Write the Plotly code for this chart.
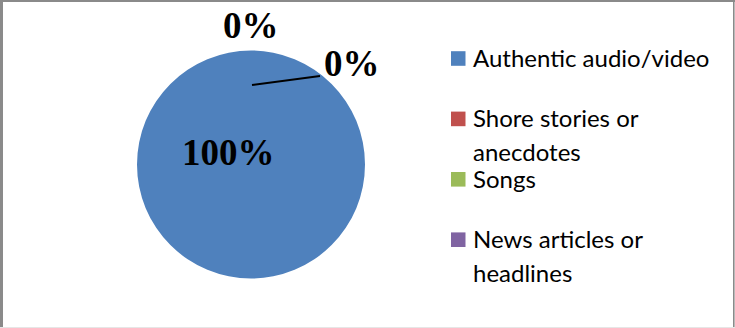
import plotly.graph_objects as go

# Survey categories and their shares
categories = [
    "Authentic audio/video",
    "Shore stories or anecdotes",
    "Songs",
    "News articles or headlines",
]
legend_lines = [
    ["Authentic audio/video"],
    ["Shore stories or", "anecdotes"],
    ["Songs"],
    ["News articles or", "headlines"],
]
values = [100, 0, 0, None]
colors = ["#4F81BD", "#C0504D", "#9BBB59", "#8064A2"]

W, H = 735, 328


def px(x):
    return x / W


def py(y):
    return 1 - y / H


# pie placement in pixels
pie_left, pie_right, pie_top, pie_bottom = 137, 365, 50, 279

fig = go.Figure()
fig.add_trace(
    go.Pie(
        labels=categories,
        values=[v if v is not None else 0 for v in values],
        marker=dict(colors=colors, line=dict(width=0)),
        sort=False,
        direction="clockwise",
        rotation=0,
        textinfo="none",
        hoverinfo="label+percent",
        showlegend=False,
        domain=dict(x=[px(pie_left), px(pie_right)], y=[py(pie_bottom), py(pie_top)]),
    )
)

total = sum(v for v in values if v is not None)

# data-label positions (pixels) for each labelled slice
label_pos = [(228, 152), (251, 26), (352, 64)]
annotations = []
for i, v in enumerate(values):
    if v is None:
        continue
    pct = f"{round(100 * v / total)}%"
    x, y = label_pos[i]
    annotations.append(
        dict(
            x=px(x), y=py(y), xref="paper", yref="paper",
            text=pct, showarrow=False, xanchor="center", yanchor="middle",
            font=dict(family="Liberation Serif", size=37, color="#000000", weight="bold"),
        )
    )

shapes = []
# leader line for the zero slice label on the right
shapes.append(dict(type="line", xref="paper", yref="paper",
                   x0=px(252), y0=py(85), x1=px(320), y1=py(76),
                   line=dict(color="#000000", width=2)))

# legend: colour squares and wrapped category names
legend_y0, legend_step, line_step = 58.5, 60.4, 33.6
for i, lines in enumerate(legend_lines):
    cy = legend_y0 + i * legend_step
    shapes.append(dict(type="rect", xref="paper", yref="paper",
                       x0=px(451), x1=px(465.5), y0=py(cy - 7.3), y1=py(cy + 7.3),
                       fillcolor=colors[i], line=dict(width=0)))
    for j, line in enumerate(lines):
        annotations.append(
            dict(
                x=px(471), y=py(cy + j * line_step - 1), xref="paper", yref="paper",
                text=line, showarrow=False, xanchor="left", yanchor="middle",
                font=dict(family="Lato", size=24, color="#000000"),
            )
        )

# outer frame
frame = "#8a8a8a"
shapes += [
    dict(type="line", xref="paper", yref="paper", x0=0, x1=1, y0=py(1), y1=py(1),
         line=dict(color=frame, width=2)),
    dict(type="line", xref="paper", yref="paper", x0=px(1.5), x1=px(1.5), y0=0, y1=1,
         line=dict(color=frame, width=3)),
    dict(type="line", xref="paper", yref="paper", x0=px(733.8), x1=px(733.8), y0=0, y1=1,
         line=dict(color=frame, width=1.6)),
    dict(type="line", xref="paper", yref="paper", x0=0, x1=1, y0=py(327.5), y1=py(327.5),
         line=dict(color="#e6e6e6", width=1)),
]

fig.update_layout(
    width=W, height=H,
    margin=dict(l=0, r=0, t=0, b=0),
    paper_bgcolor="#ffffff", plot_bgcolor="#ffffff",
    annotations=annotations, shapes=shapes,
    showlegend=False,
)

fig.write_html("out.html")
